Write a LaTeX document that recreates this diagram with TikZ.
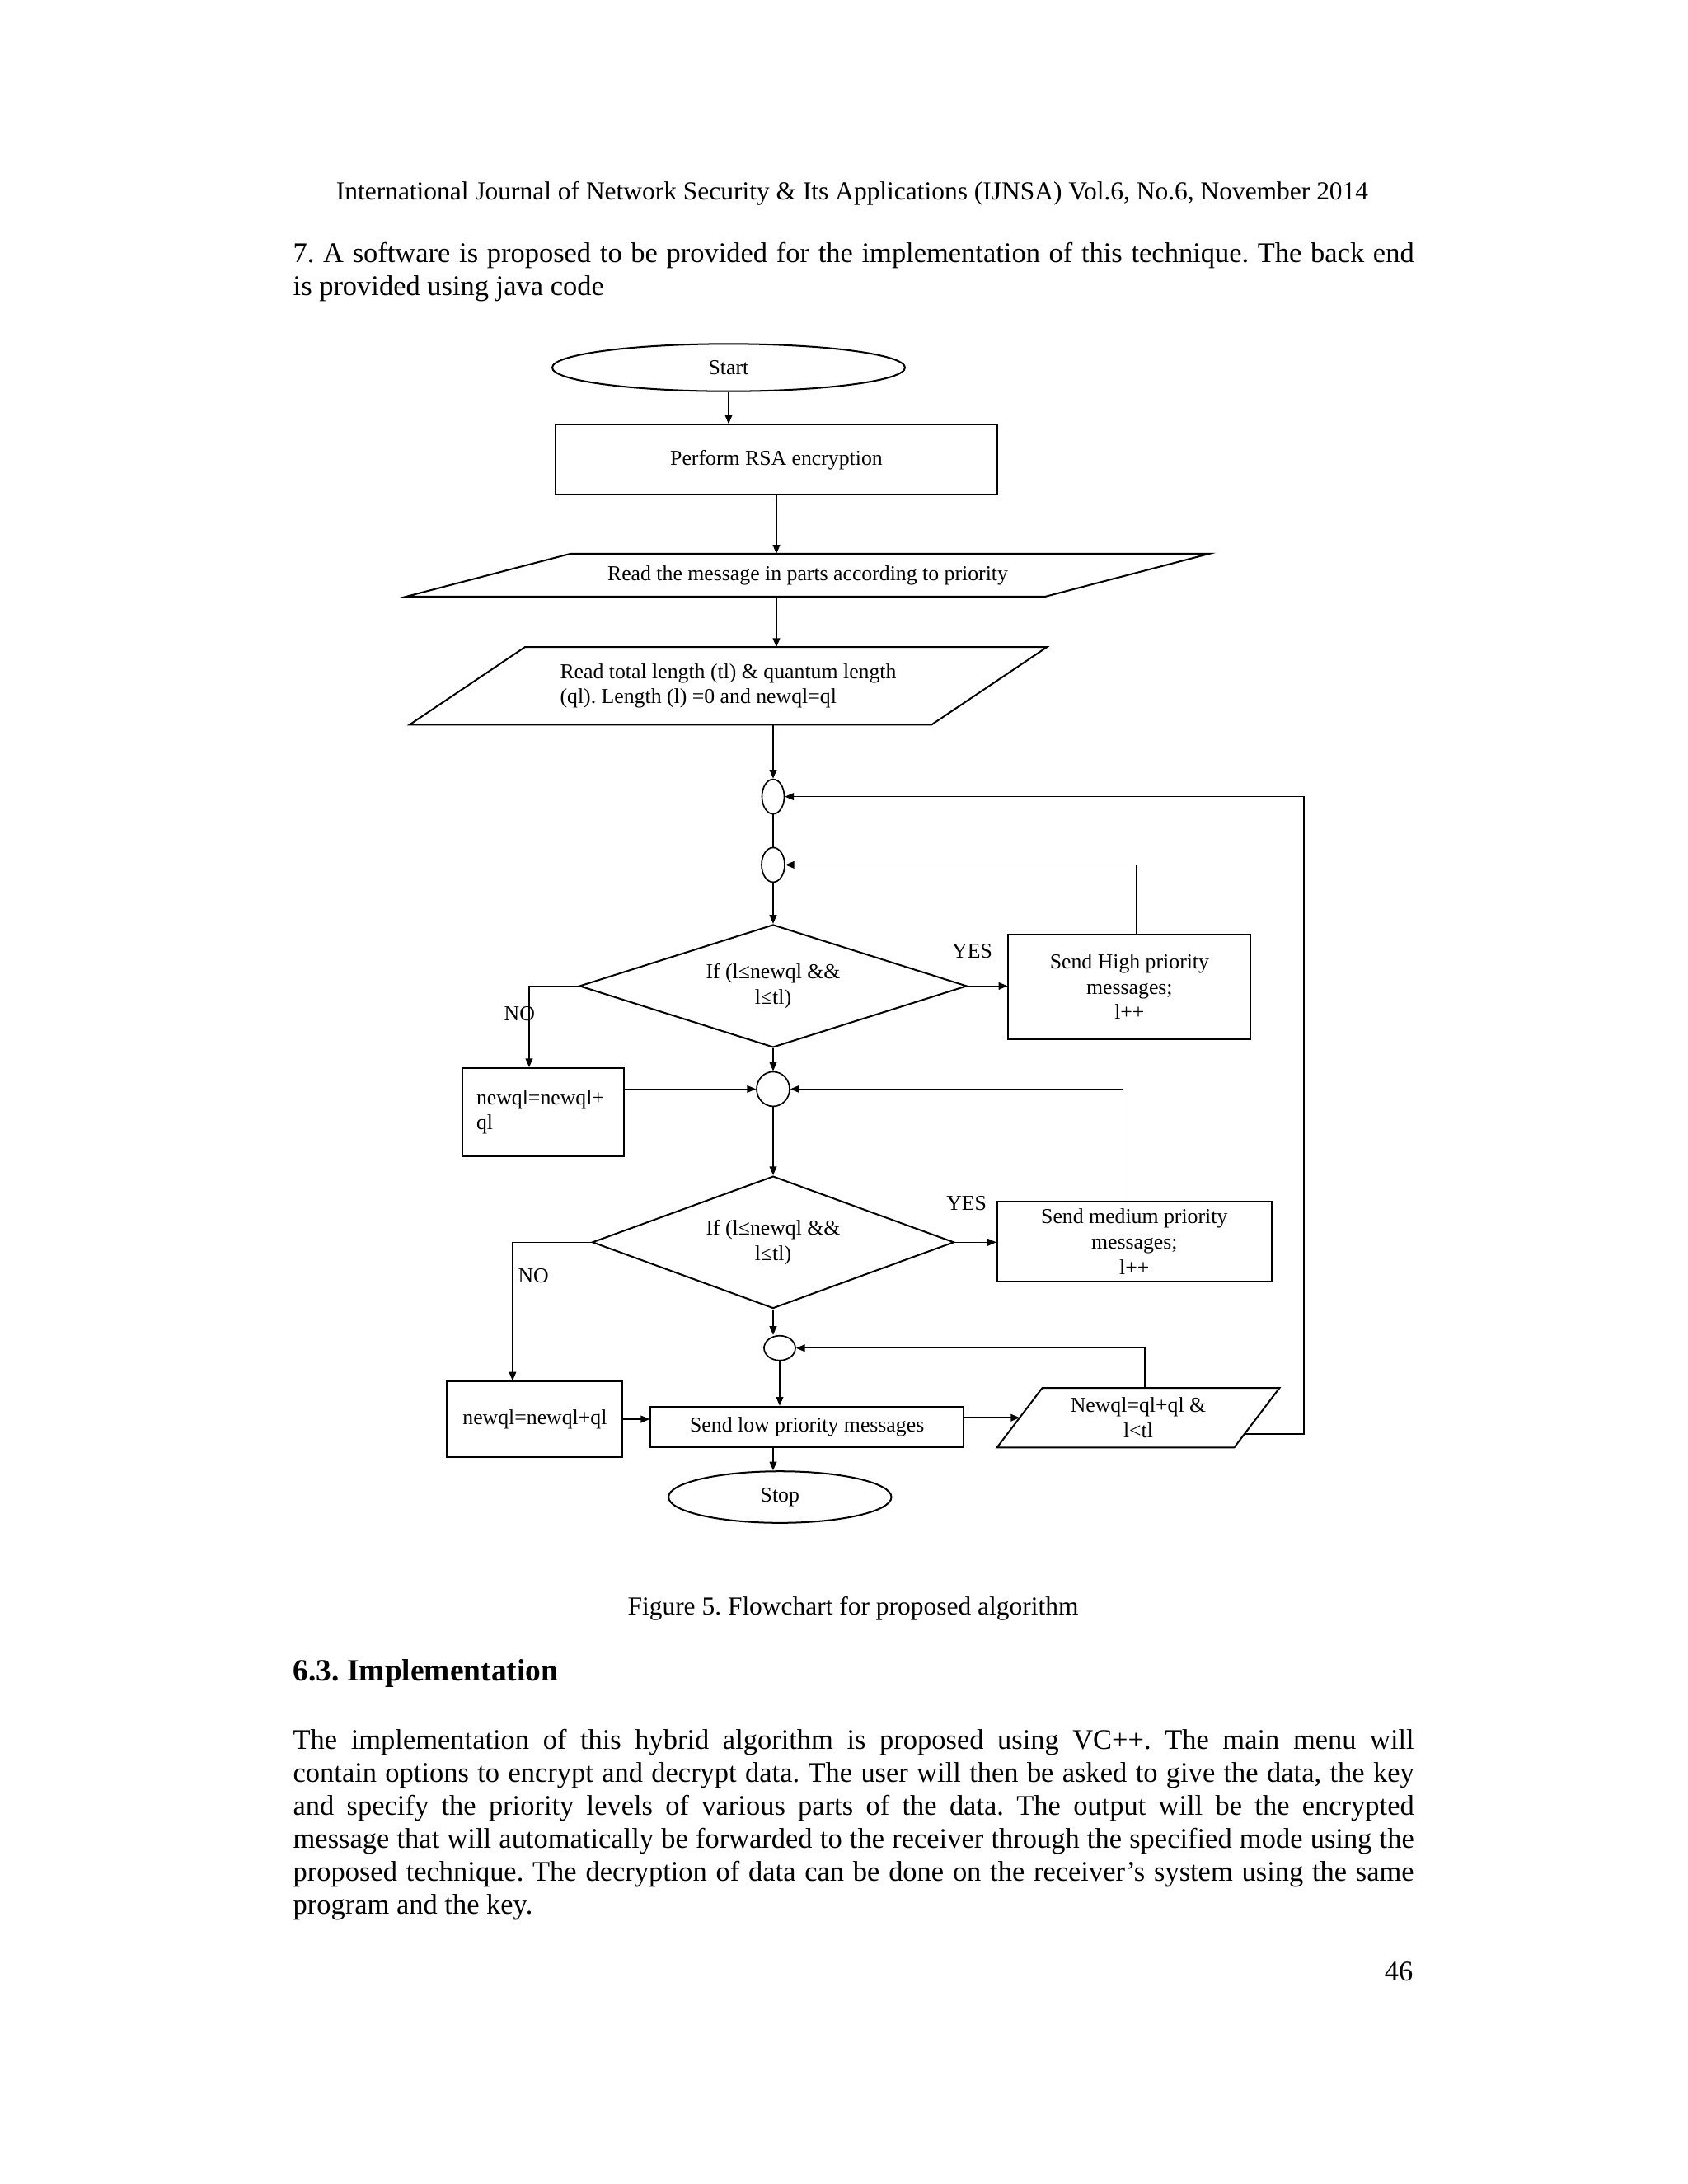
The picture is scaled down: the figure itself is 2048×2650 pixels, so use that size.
\documentclass[tikz,border=0pt]{standalone}
\usepackage{fontspec}
\setmainfont{Liberation Serif}
\usetikzlibrary{positioning, arrows.meta, shapes.geometric}
\frenchspacing

\newcommand{\pxu}{0.29883pt}
% slanted outline round an i/o node: #1 node name, #2 half slant (px)
\newcommand{\slantbox}[2]{%
  \draw[shapeline] ([shift={(#2,0)}]#1.north west) -- ([shift={(#2,0)}]#1.north east)
    -- ([shift={(-#2,0)}]#1.south east) -- ([shift={(-#2,0)}]#1.south west) -- cycle;}

\tikzset{
  shapeline/.style={line width=0.6pt},
  flowtext/.style={font=\fontsize{7.7}{9.2}\selectfont, inner sep=0pt, align=center},
  procbox/.style 2 args={flowtext, draw, shapeline, minimum width=#1*\pxu, minimum height=#2*\pxu},
  iobox/.style 2 args={flowtext, minimum width=#1*\pxu, minimum height=#2*\pxu},
  terminal/.style 2 args={flowtext, ellipse, draw, shapeline, minimum width=#1*\pxu, minimum height=#2*\pxu},
  junction/.style 2 args={ellipse, draw, line width=0.5pt, inner sep=0pt, minimum width=#1*\pxu, minimum height=#2*\pxu},
  decision/.style 2 args={flowtext, diamond, draw, shapeline, aspect=3, minimum width=#1*\pxu, minimum height=#2*\pxu},
  arr/.style={line width=0.45pt, -{Triangle[length=3.2pt, width=2.6pt]}},
  link/.style={line width=0.45pt},
  pagetext/.style={inner sep=0pt}
}

\begin{document}
\begin{tikzpicture}[x=\pxu, y=-\pxu]
  \fill[white] (0,0) rectangle (2048,2650);
  \useasboundingbox (0,0) rectangle (2048,2650);

  % page text
  \node[pagetext, anchor=base, font=\fontsize{9.4}{11}\selectfont] (header) at (1034,242)
    {International Journal of Network Security \& Its Applications (IJNSA) Vol.6, No.6, November 2014};
  \node[pagetext, anchor=north west, text width=406.4pt, align=justify,
        font=\fontsize{10.3}{11.9}\selectfont] (intro) at (355,294)
    {7. A software is proposed to be provided for the implementation of this technique. The back end\linebreak
     is provided using java code};

  % flowchart
  \node[terminal={428}{57.4}] (start) at (884,446) {Start};
  \node[procbox={536}{84.5}] (rsa) at (942,557.7) {Perform RSA encryption};
  \node[iobox={774}{50.7}] (read) at (980,697.9) {Read the message in parts according to priority};
  \slantbox{read}{99.7}
  \node[iobox={632}{92.9}, align=left] (len) at (883.5,832.3)
    {Read total length (tl) \& quantum length\\(ql). Length (l) =0 and newql=ql};
  \slantbox{len}{70}

  \node[junction={27}{42}] (e1) at (938,966.6) {};
  \node[junction={28}{42}] (e2) at (938,1049.4) {};
  \node[decision={470}{149}] (d1) at (938,1196.4) {If (l≤newql \&\&\\l≤tl)};
  \node[procbox={294}{126.7}] (high) at (1370.4,1197.2) {Send High priority\\messages;\\l++};
  \node[procbox={196}{106.5}, text width=48.4pt, align=left] (nq1) at (659,1349.3) {newql=newql+\\ql};
  \node[junction={40}{42}] (e3) at (938,1321.4) {};
  \node[decision={439}{160.5}] (d2) at (938,1507.3) {If (l≤newql \&\&\\l≤tl)};
  \node[procbox={333}{96.3}] (med) at (1376.3,1506.5) {Send medium priority\\messages;\\l++};
  \node[procbox={213}{91.3}] (nq2) at (648.9,1722) {newql=newql+ql};
  \node[junction={38}{30}] (e4) at (946,1635.7) {};
  \node[procbox={380}{49}] (low) at (979.2,1731.2) {Send low priority messages};
  \node[iobox={286.5}{71}] (upd) at (1381,1720.2) {Newql=ql+ql \&\\l<tl};
  \slantbox{upd}{27.5}
  \node[terminal={270.4}{62.6}] (stop) at (946.3,1816.5) {Stop};
  \coordinate (loopx) at (1582,966.6);

  \node[flowtext] (yes1) at (1179.5,1154) {YES};
  \node[flowtext] (yes2) at (1172.7,1460) {YES};
  \node[flowtext] (no1) at (630.3,1230.2) {NO};
  \node[flowtext] (no2) at (647.2,1547.9) {NO};

  % connectors
  \draw[arr] (start.south) -- (start.south |- rsa.north);
  \draw[arr] (rsa.south) -- (rsa.south |- read.north);
  \draw[arr] (rsa.south |- read.south) -- (rsa.south |- len.north);
  \draw[arr] (e1.north |- len.south) -- (e1.north);
  \draw[link] (e1.south) -- (e2.north);
  \draw[arr] (e2.south) -- (d1.north);
  \draw[arr] (d1.east) -- (d1.east -| high.west);
  \draw[arr] (d1.west) -| ([shift={(-17,0)}]nq1.north);
  \draw[arr] (d1.south) -- (e3.north);
  \draw[arr] (e3.west -| nq1.east) -- (e3.west);
  \draw[arr] ([shift={(8.5,0)}]high.north) |- (e2.east);
  \draw[arr] (e3.south) -- (d2.north);
  \draw[arr] (d2.east) -- (d2.east -| med.west);
  \draw[arr] ([shift={(-14,0)}]med.north) |- (e3.east);
  \draw[arr] (d2.west) -| ([shift={(-27,0)}]nq2.north);
  \draw[arr] (d2.south) -- (d2.south |- e4.north);
  \draw[arr] (e4.south) -- (e4.south |- low.north);
  \draw[arr] (nq2.east) -- (nq2.east -| low.west);
  \draw[arr] (upd.west -| low.east) -- (upd.west);
  \draw[arr] ([shift={(8,0)}]upd.north) |- (e4.east);
  \draw[arr] ([shift={(-15.5,20)}]upd.east) -| (loopx) -- (e1.east);
  \draw[arr] (d2.south |- low.south) -- (d2.south |- stop.north);

  % caption and section
  \node[pagetext, anchor=base, font=\fontsize{9.4}{11}\selectfont] (caption) at (1035,1959)
    {Figure 5. Flowchart for proposed algorithm};
  \node[pagetext, anchor=base west, font=\fontsize{11.2}{13}\selectfont\bfseries] (section) at (355,2039)
    {6.3. Implementation};
  \node[pagetext, anchor=north west, text width=406.4pt, align=justify,
        font=\fontsize{10.3}{11.9}\selectfont] (body) at (355,2098)
    {The implementation of this hybrid algorithm is proposed using VC++. The main menu will\linebreak
     contain options to encrypt and decrypt data. The user will then be asked to give the data, the key\linebreak
     and specify the priority levels of various parts of the data. The output will be the encrypted\linebreak
     message that will automatically be forwarded to the receiver through the specified mode using the\linebreak
     proposed technique. The decryption of data can be done on the receiver’s system using the same\linebreak
     program and the key.};
  \node[pagetext, anchor=base east, font=\fontsize{10.3}{11.9}\selectfont] (pageno) at (1715,2403) {46};
\end{tikzpicture}
\end{document}
